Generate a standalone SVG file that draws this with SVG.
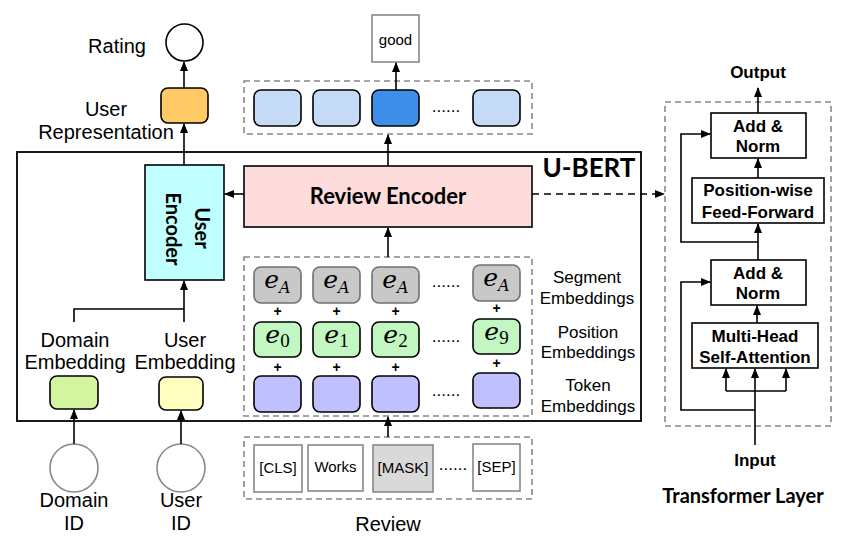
<svg xmlns="http://www.w3.org/2000/svg" width="843" height="547" viewBox="0 0 843 547">
<defs>
<marker id="ah" markerWidth="10" markerHeight="8" refX="9" refY="4" orient="auto" markerUnits="userSpaceOnUse">
<path d="M0,0 L10,4 L0,8 Z" fill="#000"/>
</marker>
<style>
.ln{fill:none;stroke:#000;stroke-width:1.6}
.dash{fill:none;stroke:#888;stroke-width:1.6;stroke-dasharray:6 4}
.bx{stroke:#000;stroke-width:1.6}
.t{font-family:"Liberation Sans",Arial,sans-serif;fill:#000;text-anchor:middle}
.tb{font-family:"Liberation Sans",Arial,sans-serif;font-weight:bold;fill:#000;text-anchor:middle}
.h{font-family:Lato,"Open Sans",sans-serif;font-weight:bold;fill:#000;text-anchor:middle}
.m{font-family:"DejaVu Serif","Liberation Serif",serif;fill:#000;text-anchor:middle;font-size:22px}
.m .e{font-style:italic;font-size:25px}
.m .s{font-style:italic;font-size:16px}
.m .n{font-family:"Liberation Serif",serif;font-size:19px}
.seg{fill:#c8c8c8;stroke:#707070;stroke-width:1.6}
.pos{fill:#c2f7c2;stroke:#000;stroke-width:1.6}
.tok{fill:#c0c0ff;stroke:#000;stroke-width:1.6}
.out{fill:#c6dbf7;stroke:#000;stroke-width:1.6}
.word{fill:#fff;stroke:#888;stroke-width:1.6}
</style>
</defs>

<!-- U-BERT frame -->
<g id="ubert">
<rect x="17" y="152" width="624" height="269" fill="none" stroke="#000" stroke-width="1.8"/>
<text class="h" x="589" y="177" font-size="26">U-BERT</text>
</g>

<g id="rating">
<circle cx="184.5" cy="42.5" r="18.5" fill="#fff" stroke="#000" stroke-width="1.6"/>
<text class="t" x="117" y="53" font-size="20">Rating</text>
</g>

<g id="user-representation">
<rect x="161" y="88" width="47" height="35" rx="7" fill="#ffc966" class="bx"/>
<text class="t" x="106" y="116" font-size="20">User</text>
<text class="t" x="106" y="139" font-size="20">Representation</text>
</g>

<g id="user-encoder">
<rect x="145" y="165" width="79" height="115" fill="#c0ffff" class="bx"/>
<text class="h" font-size="20" transform="translate(195,228) rotate(90)">User</text>
<text class="h" font-size="20" transform="translate(166,229) rotate(90)">Encoder</text>
</g>

<g id="review-encoder">
<rect x="244" y="166" width="288" height="61" fill="#ffdcdc" class="bx"/>
<text class="h" x="388" y="204" font-size="22">Review Encoder</text>
</g>

<g id="output-tokens">
<rect x="244" y="81" width="288" height="53" class="dash"/>
<rect x="254" y="90" width="47" height="36" rx="7" class="out"/>
<rect x="313" y="90" width="47" height="36" rx="7" class="out"/>
<rect x="372" y="90" width="47" height="36" rx="7" fill="#3c8ee9" class="bx"/>
<text class="t" x="446" y="112" font-size="17">......</text>
<rect x="473" y="90" width="47" height="36" rx="7" class="out"/>
</g>

<g id="good">
<rect x="372" y="15" width="47" height="47" fill="#fff" stroke="#888" stroke-width="1.6"/>
<text class="t" x="395.5" y="45" font-size="15">good</text>
</g>

<g id="embeddings">
<rect x="244" y="257" width="288" height="159" class="dash"/>
<!-- segment -->
<rect x="254" y="267" width="47" height="36" rx="7" class="seg"/>
<rect x="313" y="267" width="47" height="36" rx="7" class="seg"/>
<rect x="372" y="267" width="47" height="36" rx="7" class="seg"/>
<rect x="473" y="265" width="47" height="36" rx="7" class="seg"/>
<text class="m" x="277.5" y="288"><tspan class="e">e</tspan><tspan class="s" dy="5">A</tspan></text>
<text class="m" x="336.5" y="288"><tspan class="e">e</tspan><tspan class="s" dy="5">A</tspan></text>
<text class="m" x="395.5" y="288"><tspan class="e">e</tspan><tspan class="s" dy="5">A</tspan></text>
<text class="m" x="496.5" y="286"><tspan class="e">e</tspan><tspan class="s" dy="5">A</tspan></text>
<text class="t" x="446" y="287" font-size="17">......</text>
<!-- plus -->
<text class="tb" x="277.5" y="316" font-size="14">+</text>
<text class="tb" x="336.5" y="316" font-size="14">+</text>
<text class="tb" x="395.5" y="316" font-size="14">+</text>
<text class="tb" x="496.5" y="313" font-size="14">+</text>
<!-- position -->
<rect x="254" y="322" width="47" height="35" rx="7" class="pos"/>
<rect x="313" y="322" width="47" height="35" rx="7" class="pos"/>
<rect x="372" y="322" width="47" height="35" rx="7" class="pos"/>
<rect x="473" y="319" width="47" height="35" rx="7" class="pos"/>
<text class="m" x="277.5" y="343"><tspan class="e">e</tspan><tspan class="n" dy="4">0</tspan></text>
<text class="m" x="336.5" y="343"><tspan class="e">e</tspan><tspan class="n" dy="4">1</tspan></text>
<text class="m" x="395.5" y="343"><tspan class="e">e</tspan><tspan class="n" dy="4">2</tspan></text>
<text class="m" x="496.5" y="340"><tspan class="e">e</tspan><tspan class="n" dy="4">9</tspan></text>
<text class="t" x="446" y="342" font-size="17">......</text>
<text class="tb" x="277.5" y="372" font-size="14">+</text>
<text class="tb" x="336.5" y="372" font-size="14">+</text>
<text class="tb" x="395.5" y="372" font-size="14">+</text>
<text class="tb" x="496.5" y="368" font-size="14">+</text>
<!-- token -->
<rect x="254" y="376" width="47" height="36" rx="7" class="tok"/>
<rect x="313" y="376" width="47" height="36" rx="7" class="tok"/>
<rect x="372" y="376" width="47" height="36" rx="7" class="tok"/>
<rect x="473" y="373" width="47" height="35" rx="7" class="tok"/>
<text class="t" x="446" y="396" font-size="17">......</text>
<!-- labels -->
<text class="t" x="587" y="283" font-size="17">Segment</text>
<text class="t" x="587" y="304" font-size="17">Embeddings</text>
<text class="t" x="588" y="338" font-size="17">Position</text>
<text class="t" x="588" y="358" font-size="17">Embeddings</text>
<text class="t" x="588" y="391" font-size="17">Token</text>
<text class="t" x="588" y="412" font-size="17">Embeddings</text>
</g>

<g id="review-input">
<rect x="244" y="437" width="288" height="62" class="dash"/>
<rect x="254" y="445" width="48" height="47" class="word"/>
<text class="t" x="278" y="473" font-size="15">[CLS]</text>
<rect x="308" y="445" width="55" height="46" class="word"/>
<text class="t" x="335.5" y="472" font-size="15">Works</text>
<rect x="373" y="445" width="60" height="47" fill="#d9d9d9" stroke="#888" stroke-width="1.6"/>
<text class="t" x="403" y="473" font-size="15">[MASK]</text>
<text class="t" x="453" y="470" font-size="17">......</text>
<rect x="473" y="444" width="47" height="47" class="word"/>
<text class="t" x="496.5" y="472" font-size="15">[SEP]</text>
<text class="t" x="388" y="531" font-size="20">Review</text>
</g>

<g id="domain-embedding">
<rect x="50" y="376" width="48" height="33" rx="7" fill="#d4f5a0" class="bx"/>
<text class="t" x="75" y="347" font-size="20">Domain</text>
<text class="t" x="75" y="369" font-size="20">Embedding</text>
</g>

<g id="user-embedding">
<rect x="159" y="377" width="44" height="33" rx="7" fill="#ffffc0" class="bx"/>
<text class="t" x="185" y="347" font-size="20">User</text>
<text class="t" x="185" y="369" font-size="20">Embedding</text>
</g>

<g id="domain-id">
<circle cx="74" cy="468" r="24" fill="#fff" stroke="#888" stroke-width="1.6"/>
<text class="t" x="74" y="507" font-size="20">Domain</text>
<text class="t" x="74" y="530" font-size="20">ID</text>
</g>

<g id="user-id">
<circle cx="181" cy="468" r="24" fill="#fff" stroke="#888" stroke-width="1.6"/>
<text class="t" x="181" y="507" font-size="20">User</text>
<text class="t" x="181" y="530" font-size="20">ID</text>
</g>

<!-- Transformer layer -->
<g id="transformer">
<rect x="665" y="102" width="166" height="324" class="dash"/>
<text class="h" x="743" y="503" font-size="20">Transformer Layer</text>
</g>
<g id="output">
<text class="tb" x="758" y="78" font-size="17">Output</text>
</g>
<g id="add-norm-2">
<rect x="711" y="113" width="95" height="45" fill="#fff" class="bx"/>
<text class="tb" x="758" y="132" font-size="17">Add &amp;</text>
<text class="tb" x="758" y="152" font-size="17">Norm</text>
</g>
<g id="ffn">
<rect x="692" y="178" width="132" height="45" fill="#fff" class="bx"/>
<text class="tb" x="758" y="196" font-size="17">Position-wise</text>
<text class="tb" x="758" y="218" font-size="17">Feed-Forward</text>
</g>
<g id="add-norm-1">
<rect x="711" y="260" width="95" height="45" fill="#fff" class="bx"/>
<text class="tb" x="758" y="279" font-size="17">Add &amp;</text>
<text class="tb" x="758" y="299" font-size="17">Norm</text>
</g>
<g id="mhsa">
<rect x="692" y="323" width="126" height="45" fill="#fff" class="bx"/>
<text class="tb" x="755" y="342" font-size="17">Multi-Head</text>
<text class="tb" x="755" y="363" font-size="17">Self-Attention</text>
</g>
<g id="input">
<text class="tb" x="755" y="466" font-size="17">Input</text>
</g>

<g id="connectors">
<path class="ln" d="M184,88 V62" marker-end="url(#ah)"/>
<path class="ln" d="M184,165 V124" marker-end="url(#ah)"/>
<path class="ln" d="M244,194 H225" marker-end="url(#ah)"/>
<path class="ln" d="M532,194 H664" stroke-dasharray="7 5" marker-end="url(#ah)"/>
<path class="ln" d="M388,166 V135" marker-end="url(#ah)"/>
<path class="ln" d="M396,90 V63" marker-end="url(#ah)"/>
<path class="ln" d="M388,257 V228" marker-end="url(#ah)"/>
<path class="ln" d="M388,437 V417" marker-end="url(#ah)"/>
<path class="ln" d="M74,444 V410" marker-end="url(#ah)"/>
<path class="ln" d="M181,444 V411" marker-end="url(#ah)"/>
<path class="ln" d="M74,322 V309 H184"/>
<path class="ln" d="M184,322 V281" marker-end="url(#ah)"/>
<!-- transformer -->
<path class="ln" d="M758,113 V88" marker-end="url(#ah)"/>
<path class="ln" d="M758,178 V159" marker-end="url(#ah)"/>
<path class="ln" d="M758,260 V224" marker-end="url(#ah)"/>
<path class="ln" d="M758,242 H681 V134 H710" marker-end="url(#ah)"/>
<path class="ln" d="M757,323 V306" marker-end="url(#ah)"/>
<path class="ln" d="M755,445 V369" marker-end="url(#ah)"/>
<path class="ln" d="M726,391 H786"/>
<path class="ln" d="M726,391 V369" marker-end="url(#ah)"/>
<path class="ln" d="M786,391 V369" marker-end="url(#ah)"/>
<path class="ln" d="M755,410 H681 V282 H710" marker-end="url(#ah)"/>
</g>
</svg>
